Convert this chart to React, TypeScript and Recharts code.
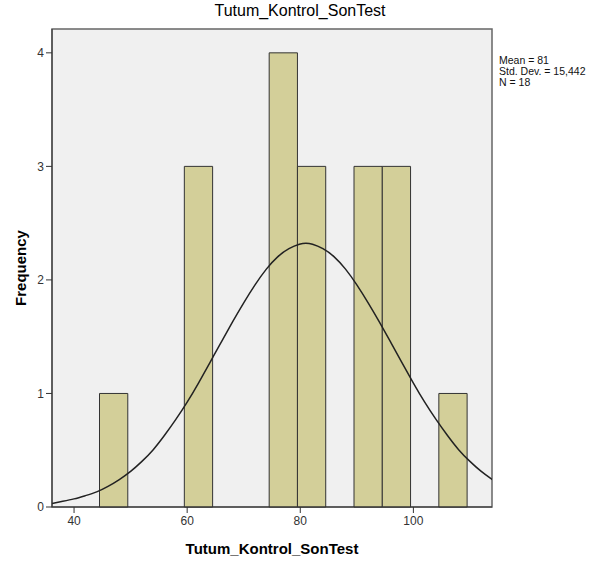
import {
  ComposedChart,
  Line,
  XAxis,
  YAxis,
  ReferenceArea,
} from "recharts";

// histogram bins (lower edge, upper edge, count)
const binStarts = [44.5, 59.5, 74.5, 79.5, 89.5, 94.5, 104.5];
const binEnds = [49.5, 64.5, 79.5, 84.5, 94.5, 99.5, 109.5];
const binCounts = [1, 3, 4, 3, 3, 3, 1];

// normal curve
const curveX = [
  36, 38, 40, 42, 44, 46, 48, 50, 52, 54, 56, 58, 60, 62, 64, 66, 68, 70, 72,
  74, 76, 78, 80, 81, 82, 84, 86, 88, 90, 92, 94, 96, 98, 100, 102, 104, 106,
  108, 110, 112, 114,
];
const curveY = [
  0.03, 0.05, 0.07, 0.1, 0.13, 0.18, 0.24, 0.31, 0.4, 0.5, 0.63, 0.77, 0.92,
  1.09, 1.27, 1.45, 1.63, 1.8, 1.96, 2.1, 2.21, 2.28, 2.32, 2.325, 2.32, 2.28,
  2.21, 2.1, 1.96, 1.8, 1.63, 1.45, 1.27, 1.09, 0.92, 0.77, 0.63, 0.5, 0.4,
  0.31, 0.24,
];

const xTicks = [40, 60, 80, 100];
const yTicks = [0, 1, 2, 3, 4];

const title = "Tutum_Kontrol_SonTest";
const statLines = ["Mean = 81", "Std. Dev. = 15,442", "N = 18"];

const X_MIN = 36.1;
const X_MAX = 113.9;
const Y_MAX = 4.21;

const curveData = curveX.map((x, i) => ({ x, y: curveY[i] }));

const font = "Arial, 'Liberation Sans', sans-serif";

export default function App() {
  return (
    <div
      style={{
        position: "absolute",
        left: 0,
        top: 0,
        width: 593,
        height: 568,
        background: "#fff",
        fontFamily: font,
      }}
    >
      <div
        style={{
          position: "absolute",
          top: 2,
          left: 0,
          width: 600,
          textAlign: "center",
          fontSize: 16,
          color: "#000",
        }}
      >
        {title}
      </div>

      <ComposedChart
        width={593}
        height={568}
        data={curveData}
        margin={{ top: 29, right: 101, bottom: 31, left: 0 }}
      >
        <ReferenceArea
          x1={X_MIN}
          x2={X_MAX}
          y1={0}
          y2={Y_MAX}
          fill="#f0f0f0"
          fillOpacity={1}
          stroke="#666"
          strokeWidth={1.5}
        />
        {binCounts.map((c, i) => (
          <ReferenceArea
            key={i}
            x1={binStarts[i]}
            x2={binEnds[i]}
            y1={0}
            y2={c}
            fill="#d3cf99"
            fillOpacity={1}
            stroke="#333"
            strokeWidth={1}
          />
        ))}
        <XAxis
          type="number"
          dataKey="x"
          domain={[X_MIN, X_MAX]}
          ticks={xTicks}
          allowDataOverflow
          height={30}
          stroke="#333"
          tickSize={6}
          tick={{ fontSize: 12, fill: "#333", fontFamily: font }}
          tickMargin={3}
        />
        <YAxis
          type="number"
          domain={[0, Y_MAX]}
          ticks={yTicks}
          allowDataOverflow
          width={52}
          stroke="#333"
          tickSize={6}
          tick={{ fontSize: 12, fill: "#333", fontFamily: font }}
          tickMargin={2}
        />
        <Line
          type="basis"
          dataKey="y"
          stroke="#222"
          strokeWidth={1.5}
          dot={false}
          isAnimationActive={false}
        />
      </ComposedChart>

      <div
        style={{
          position: "absolute",
          left: 12,
          top: 268,
          transform: "translate(-50%, -50%) rotate(-90deg)",
          transformOrigin: "center",
          marginLeft: 8,
          fontSize: 15,
          fontWeight: "bold",
          whiteSpace: "nowrap",
        }}
      >
        Frequency
      </div>

      <div
        style={{
          position: "absolute",
          top: 540,
          left: 52,
          width: 440,
          textAlign: "center",
          fontSize: 15,
          fontWeight: "bold",
        }}
      >
        {title}
      </div>

      <div
        style={{
          position: "absolute",
          top: 55,
          left: 499,
          fontSize: 10.5,
          lineHeight: "11px",
          fontFamily: "'Liberation Sans Narrow', 'Arial Narrow', sans-serif",
          color: "#111",
          whiteSpace: "nowrap",
        }}
      >
        {statLines.map((s) => (
          <div key={s}>{s}</div>
        ))}
      </div>
    </div>
  );
}
